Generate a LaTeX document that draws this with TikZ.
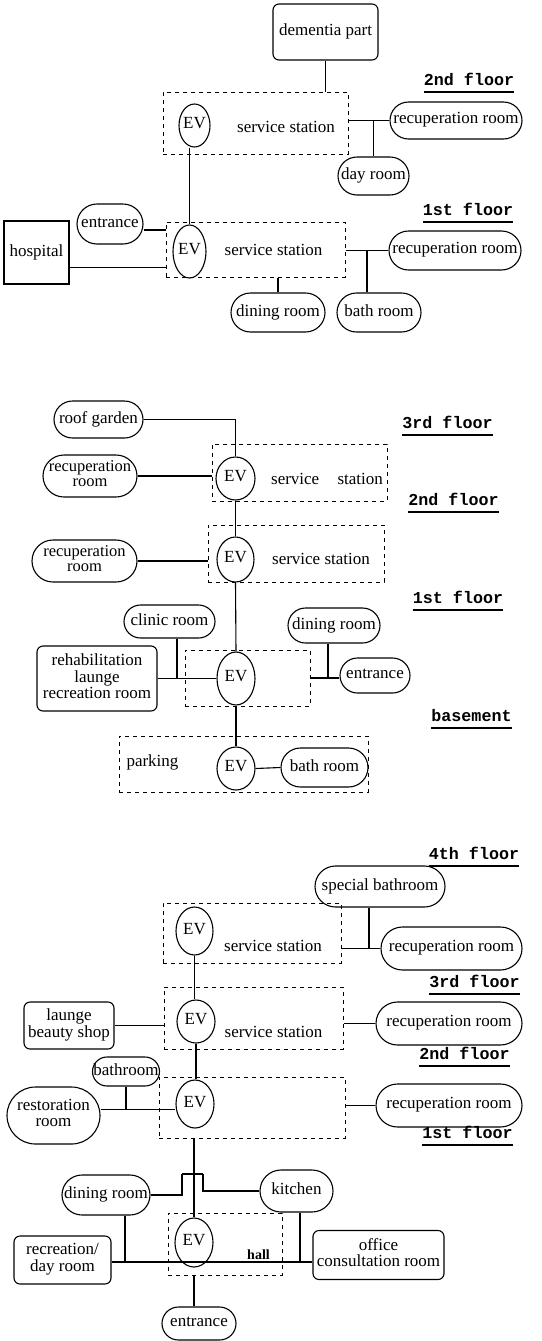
\documentclass[tikz,border=0pt]{standalone}
\usepackage{fontspec}
\setmainfont{Liberation Serif}
\newfontfamily\monofl{Liberation Mono}
\usetikzlibrary{shapes.geometric,shapes.misc}
\newcommand\nf{\fontsize{17}{16}\selectfont}
\newcommand\T[1]{\makebox[0pt]{\begin{tabular}{@{}c@{}}#1\end{tabular}}}
\tikzset{
  sz/.style 2 args={minimum width=#1pt, minimum height=#2pt},
  room/.style={draw, rounded rectangle, inner sep=0pt, line width=1.1pt, font=\nf},
  rbox/.style={draw, rectangle, rounded corners=6pt, inner sep=0pt, line width=1.1pt, font=\nf},
  sbox/.style={draw, rectangle, inner sep=0pt, line width=1.1pt, font=\nf},
  ev/.style={draw, ellipse, inner sep=0pt, line width=1.1pt, font=\nf},
  zone/.style={draw, rectangle, inner sep=0pt, line width=1pt, dash pattern=on 4pt off 4pt},
  lbl/.style={inner sep=0pt, font=\nf},
  floorlbl/.style={inner sep=0pt, anchor=base, font={\monofl\fontsize{16.7}{18}\selectfont\bfseries}},
  conn/.style={line width=1.1pt},
  uline/.style={line width=1.1pt},
  tight/.style={font=\fontsize{16.5}{15.5}\selectfont},
  mid/.style={font=\fontsize{17}{15.5}\selectfont},
}
\begin{document}
\begin{tikzpicture}[x=1pt,y=-1pt]
\useasboundingbox (0,0) rectangle (541,1341);

% ---------------- Diagram 1 ----------------
\node[zone, sz={185}{62}] (z2a) at (255.5,123) {};
\node[ev, sz={31}{43}] (ev2a) at (194.5,125.5) {\T{EV}};
\node[lbl] (ss2a) at (286,127) {service station};
\node[rbox, sz={105}{56}] (dem) at (325.5,32) {\T{dementia part}};
\node[room, sz={132}{37}] (rec2a) at (456,120.5) {\T{recuperation room}};
\node[room, sz={71}{38}] (day) at (373.5,176) {\T{day room}};
\node[floorlbl] (fl2a) at (469,85) {2nd floor};

\node[zone, sz={179}{55}] (z1a) at (255.5,249.5) {};
\node[ev, sz={33}{53}] (ev1a) at (189.5,251.5) {\T{EV}};
\node[lbl] (ss1a) at (273.5,250) {service station};
\node[room, sz={66}{40}] (ent1a) at (110,224) {\T{entrance}};
\node[sbox, sz={65}{63}] (hosp) at (36.5,252.5) {\T{hospital}};
\node[room, sz={132}{39}] (rec1a) at (455,250.5) {\T{recuperation room}};
\node[room, sz={94}{39}] (din1a) at (278,312.5) {\T{dining room}};
\node[room, sz={84}{39}] (bath1a) at (379,312.5) {\T{bath room}};
\node[floorlbl] (fl1a) at (468,215) {1st floor};

\draw[conn] (dem.south) -- (dem.south |- z2a.north);
\draw[conn] (rec2a.west -| z2a.east) -- (rec2a.west);
\draw[conn] (day.north) -- (day.north |- rec2a.west);
\draw[conn] (ev2a.south -| ev1a.north) -- (ev1a.north);
\draw[uline] ([yshift=-7pt]fl2a.base west) -- ([yshift=-7pt]fl2a.base east);

\draw[conn] ([yshift=-6pt]ent1a.east) -- ([yshift=-6pt]ent1a.east -| z1a.west);
\draw[conn] ([yshift=-18pt]z1a.west) -- ([yshift=-18pt]z1a.west -| hosp.east);
\draw[conn] (rec1a.west -| z1a.east) -- (rec1a.west);
\draw[conn] ([xshift=-12pt]bath1a.north) -- ([xshift=-12pt]bath1a.north |- rec1a.west);
\draw[conn] (din1a.north |- z1a.south) -- (din1a.north);
\draw[uline] ([yshift=-7pt]fl1a.base west) -- ([yshift=-7pt]fl1a.base east);

% ---------------- Diagram 2 ----------------
\node[room, sz={89}{37}] (roof) at (98.5,419.5) {\T{roof garden}};
\node[zone, sz={175}{57}] (z3b) at (299.5,472.5) {};
\node[ev, sz={39}{43}] (ev3b) at (235.5,478.5) {\T{EV}};
\node[lbl] (ss3b) at (327,479) {service\hspace{14pt} station};
\node[room, tight, sz={94}{42}] (rec3b) at (90,476) {\T{recuperation\\room}};
\node[floorlbl] (fl3b) at (447.5,428) {3rd floor};
\node[zone, sz={176}{57}] (z2b) at (296,553.5) {};
\node[ev, sz={37}{45}] (ev2b) at (235.5,559.5) {\T{EV}};
\node[lbl] (ss2b) at (321,559) {service station};
\node[room, tight, sz={105}{42}] (rec2b) at (84.5,561) {\T{recuperation\\room}};
\node[floorlbl] (fl2b) at (453.5,505) {2nd floor};

\node[room, sz={91}{33}] (clinic) at (169.5,621.5) {\T{clinic room}};
\node[rbox, mid, sz={120}{65}] (rehab) at (97,678.5) {\T{rehabilitation\\launge\\recreation room}};
\node[zone, sz={125}{56}] (z1c) at (247.5,678) {};
\node[ev, sz={38}{53}] (ev1c) at (236,678.5) {\T{EV}};
\node[room, sz={92}{35}] (din1c) at (334,625.5) {\T{dining room}};
\node[room, sz={70}{35}] (ent1c) at (375,675.5) {\T{entrance}};
\node[floorlbl] (fl1c) at (458,603) {1st floor};
\node[floorlbl] (fl0c) at (471.5,721) {basement};
\node[zone, sz={249}{56}] (zb) at (243.5,764) {};
\node[lbl] (park) at (152.5,762) {parking};
\node[ev, sz={38}{43}] (ev0c) at (236,768.5) {\T{EV}};
\node[room, sz={87}{39}] (bath0c) at (324.5,767.5) {\T{bath room}};

\draw[conn] (roof.east) -| (ev3b.north);
\draw[conn] (rec3b.east) -- (rec3b.east -| z3b.west);
\draw[conn] (ev3b.south) -- (ev2b.north);
\draw[conn] (rec2b.east) -- (rec2b.east -| z2b.west);
\draw[conn] (ev2b.south) -- (ev1c.north);
\draw[uline] ([yshift=-7pt]fl3b.base west) -- ([yshift=-7pt]fl3b.base east);
\draw[uline] ([yshift=-7pt]fl2b.base west) -- ([yshift=-7pt]fl2b.base east);

\draw[conn] (rehab.east) -- (rehab.east -| ev1c.west);
\draw[conn] ([xshift=7.5pt]clinic.south) -- ([xshift=7.5pt]clinic.south |- rehab.east);
\draw[conn] (z1c.east) -- (z1c.east -| ent1c.west);
\draw[conn] ([xshift=-6pt]din1c.south) -- ([xshift=-6pt]din1c.south |- z1c.east);
\draw[conn] (ev1c.south) -- (ev0c.north);
\draw[conn] (ev0c.east) -- (bath0c.west);
\draw[uline] ([yshift=-7pt]fl1c.base west) -- ([yshift=-7pt]fl1c.base east);
\draw[uline] ([yshift=-7pt]fl0c.base west) -- ([yshift=-7pt]fl0c.base east);

% ---------------- Diagram 3 ----------------
\node[floorlbl] (fl4d) at (474,859) {4th floor};
\node[room, sz={130}{41}] (spb) at (380,886.5) {\T{special bathroom}};
\node[zone, sz={178}{60}] (z3d) at (252,933) {};
\node[ev, sz={37}{48}] (ev3d) at (194.5,931) {\T{EV}};
\node[lbl] (ss3d) at (273,946) {service station};
\node[room, sz={141}{43}] (rec3d) at (451.5,948.5) {\T{recuperation room}};
\node[floorlbl] (fl3d) at (474.5,987) {3rd floor};
\node[zone, sz={179}{62}] (z2d) at (253.5,1018) {};
\node[ev, sz={38}{43}] (ev2d) at (196,1021.5) {\T{EV}};
\node[lbl] (ss2d) at (273.5,1032) {service station};
\node[rbox, sz={90}{47}] (lbs) at (69,1025.5) {\T{launge\\beauty shop}};
\node[room, sz={146}{43}] (rec2d) at (449,1023.5) {\T{recuperation room}};
\node[floorlbl] (fl2d) at (464.5,1059) {2nd floor};
\node[zone, sz={186}{61}] (z1d) at (252,1107.5) {};
\node[ev, sz={38}{48}] (ev1d) at (195,1104) {\T{EV}};
\node[room, sz={67}{29}] (bathd) at (126,1071.5) {\T{bathroom}};
\node[room, sz={93}{57}] (resto) at (53.5,1115.5) {\T{restoration\\room}};
\node[room, sz={146}{43}] (rec1d) at (449,1105.5) {\T{recuperation room}};
\node[floorlbl] (fl1d) at (467.5,1138) {1st floor};

\node[room, sz={88}{40}] (dind) at (106,1195) {\T{dining room}};
\node[room, sz={73}{42}] (kit) at (296.5,1191) {\T{kitchen}};
\node[zone, sz={114}{62}] (z0d) at (225,1244) {};
\node[ev, sz={38}{49}] (ev0d) at (194,1242.5) {\T{EV}};
\node[lbl, font=\bfseries\fontsize{14}{16}\selectfont] (hall) at (258.5,1255) {hall};
\node[rbox, sz={97}{48}] (recd) at (62.5,1260) {\T{recreation/\\day room}};
\node[rbox, sz={131}{49}] (off) at (378.5,1255) {\T{office\\consultation room}};
\node[room, sz={74}{33}] (entd) at (199,1323.5) {\T{entrance}};
\coordinate (tl) at (182,1174);
\coordinate (tr) at (203,1174);
\coordinate (rj) at ([yshift=6pt]resto.east);
\coordinate (hl) at ([yshift=-2pt]recd.east);

\draw[conn] (ev3d.south) -- (ev3d.south |- ev2d.north);
\draw[conn] (rec3d.west -| z3d.east) -- (rec3d.west);
\draw[conn] ([xshift=-11pt]spb.south) -- ([xshift=-11pt]spb.south |- rec3d.west);
\draw[conn] (lbs.east) -- (lbs.east -| z2d.west);
\draw[conn] (rec2d.west -| z2d.east) -- (rec2d.west);
\draw[conn] (ev2d.south) -- (ev2d.south |- ev1d.north);
\draw[conn] (rj) -- (rj -| ev1d.west);
\draw[conn] (bathd.south) -- (bathd.south |- rj);
\draw[conn] (rec1d.west -| z1d.east) -- (rec1d.west);
\draw[uline] ([yshift=-7pt]fl4d.base west) -- ([yshift=-7pt]fl4d.base east);
\draw[uline] ([yshift=-7pt]fl3d.base west) -- ([yshift=-7pt]fl3d.base east);
\draw[uline] ([yshift=-7pt]fl2d.base west) -- ([yshift=-7pt]fl2d.base east);
\draw[uline] ([yshift=-7pt]fl1d.base west) -- ([yshift=-7pt]fl1d.base east);

\draw[conn] (ev0d.north |- z1d.south) -- (ev0d.north);
\draw[conn] (tl) -- (tr);
\draw[conn] (tl) |- (dind.east);
\draw[conn] (tr) |- (kit.west);
\draw[conn] (hl) -- (hl -| off.west);
\draw[conn] ([xshift=19pt]dind.south) -- ([xshift=19pt]dind.south |- hl);
\draw[conn] ([xshift=3.5pt]kit.south) -- ([xshift=3.5pt]kit.south |- hl);
\draw[conn] (ev0d.south |- z0d.south) -- (ev0d.south |- entd.north);
\end{tikzpicture}
\end{document}
